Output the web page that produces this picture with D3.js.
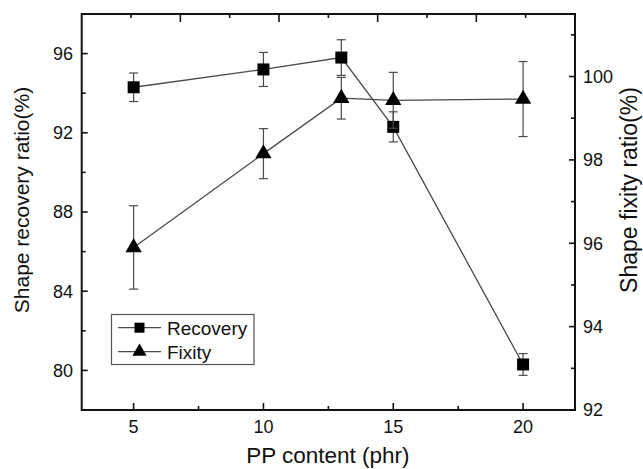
<!DOCTYPE html>
<html>
<head>
<meta charset="utf-8">
<script src="https://cdn.jsdelivr.net/npm/d3@7"></script>
<style>
  html, body { margin: 0; padding: 0; background: #fff; }
  svg { display: block; }
  text { font-family: "Liberation Sans", Arial, Helvetica, sans-serif; fill: #111; }
</style>
</head>
<body>
<svg id="chart" width="643" height="469"></svg>
<script>
// PP content (phr) on the x axis
const content = [5, 10, 13, 15, 20];
// Shape recovery ratio (%), left axis
const recovery    = [94.3, 95.2, 95.8, 92.3, 80.3];
const recoveryErr = [0.72, 0.86, 0.9, 0.76, 0.55];
// Shape fixity ratio (%), right axis
const fixity      = [95.9, 98.15, 99.48, 99.43, 99.46];
const fixityErr   = [1.0, 0.6, 0.5, 0.67, 0.9];

const xTicks      = [5, 10, 15, 20];
const xMinorTicks = [7.5, 12.5, 17.5];
const leftTicks   = [80, 84, 88, 92, 96];
const leftMinor   = [82, 86, 90, 94, 98];
const rightTicks  = [92, 94, 96, 98, 100];
const rightMinor  = [93, 95, 97, 99, 101];

const svg = d3.select("#chart");
const L = 81.7, R = 575, T = 14, B = 410;

const x  = d3.scaleLinear().domain([3, 22]).range([L, R]);
const yL = d3.scaleLinear().domain([78, 98]).range([B, T]);
const yR = d3.scaleLinear().domain([92, 101.5]).range([B, T]);
// unlabelled top axis dividing the frame into ten steps
const xTop = d3.scaleLinear().domain([0, 10]).range([L, R]);

const axisColor = "#111";

// tick marks (pointing inward)
function ticks(g, vals, len, orient, scale) {
  vals.forEach(v => {
    const p = scale(v);
    let x1, y1, x2, y2;
    if (orient === "bottom") { x1 = x2 = p; y1 = B; y2 = B - len; }
    if (orient === "top")    { x1 = x2 = p; y1 = T; y2 = T + len; }
    if (orient === "left")   { y1 = y2 = p; x1 = L; x2 = L + len; }
    if (orient === "right")  { y1 = y2 = p; x1 = R; x2 = R - len; }
    g.append("line").attr("x1", x1).attr("y1", y1).attr("x2", x2).attr("y2", y2)
      .attr("stroke", axisColor).attr("stroke-width", 1.6);
  });
}
const tg = svg.append("g");
ticks(tg, xTicks, 7, "bottom", x);
ticks(tg, xMinorTicks, 4, "bottom", x);
ticks(tg, [2, 4, 6, 8], 8, "top", xTop);
ticks(tg, [1, 3, 5, 7, 9], 4, "top", xTop);
ticks(tg, leftTicks, 6, "left", yL);
ticks(tg, leftMinor, 4, "left", yL);
ticks(tg, rightTicks, 6, "right", yR);
ticks(tg, rightMinor, 4, "right", yR);

// frame
svg.append("rect").attr("x", L).attr("y", T).attr("width", R - L).attr("height", B - T)
  .attr("fill", "none").attr("stroke", axisColor).attr("stroke-width", 2);

// tick labels
svg.append("g").selectAll("text").data(xTicks).join("text")
  .attr("x", d => x(d)).attr("y", 433).attr("text-anchor", "middle")
  .attr("font-size", 18).text(d => d);
svg.append("g").selectAll("text").data(leftTicks).join("text")
  .attr("x", 73).attr("y", d => yL(d)).attr("dy", "0.35em").attr("text-anchor", "end")
  .attr("font-size", 18).text(d => d);
svg.append("g").selectAll("text").data(rightTicks).join("text")
  .attr("x", 583).attr("y", d => yR(d)).attr("dy", "0.35em").attr("text-anchor", "start")
  .attr("font-size", 18).text(d => d);

// axis titles
svg.append("text").attr("x", (L + R) / 2 - 0.5).attr("y", 463).attr("text-anchor", "middle")
  .attr("font-size", 22.5).text("PP content (phr)");
svg.append("text").attr("transform", "translate(29,200) rotate(-90)").attr("text-anchor", "middle")
  .attr("font-size", 21).text("Shape recovery ratio(%)");
svg.append("text").attr("transform", "translate(637,190) rotate(-90)").attr("text-anchor", "middle")
  .attr("font-size", 23).text("Shape fixity ratio(%)");

const lineColor = "#4a4a4a";
const series = [
  { name: "Recovery", vals: recovery, err: recoveryErr, y: yL, sym: d3.symbolSquare, size: 144, legSize: 100 },
  { name: "Fixity",   vals: fixity,   err: fixityErr,   y: yR, sym: d3.symbolTriangle, size: 115, legSize: 88 }
];

series.forEach(s => {
  const pts = content.map((c, i) => ({ x: c, v: s.vals[i], e: s.err[i] }));
  const g = svg.append("g");
  g.append("path").datum(pts)
    .attr("d", d3.line().x(d => x(d.x)).y(d => s.y(d.v)))
    .attr("fill", "none").attr("stroke", lineColor).attr("stroke-width", 1.3);
  const eb = g.selectAll("g.err").data(pts).join("g");
  eb.append("line").attr("x1", d => x(d.x)).attr("x2", d => x(d.x))
    .attr("y1", d => s.y(d.v + d.e)).attr("y2", d => s.y(d.v - d.e))
    .attr("stroke", lineColor).attr("stroke-width", 1.2);
  [1, -1].forEach(sg => {
    eb.append("line").attr("x1", d => x(d.x) - 4.5).attr("x2", d => x(d.x) + 4.5)
      .attr("y1", d => s.y(d.v + sg * d.e)).attr("y2", d => s.y(d.v + sg * d.e))
      .attr("stroke", lineColor).attr("stroke-width", 1.2);
  });
  g.selectAll("path.m").data(pts).join("path").attr("class", "m")
    .attr("d", d3.symbol().type(s.sym).size(s.size))
    .attr("transform", d => `translate(${x(d.x)},${s.y(d.v)})`)
    .attr("fill", "#000");
});

// legend
const lg = svg.append("g");
lg.append("rect").attr("x", 111.5).attr("y", 314.5).attr("width", 142.5).attr("height", 50)
  .attr("fill", "#fff").attr("stroke", "#555").attr("stroke-width", 1.2);
series.forEach((s, i) => {
  const cy = 327.7 + i * 24;
  lg.append("line").attr("x1", 118).attr("x2", 161).attr("y1", cy).attr("y2", cy)
    .attr("stroke", lineColor).attr("stroke-width", 1.3);
  lg.append("path").attr("d", d3.symbol().type(s.sym).size(s.legSize)())
    .attr("transform", `translate(139.5,${cy})`).attr("fill", "#000");
  lg.append("text").attr("x", 167).attr("y", cy).attr("dy", "0.36em")
    .attr("font-size", 19).text(s.name);
});
</script>
</body>
</html>
